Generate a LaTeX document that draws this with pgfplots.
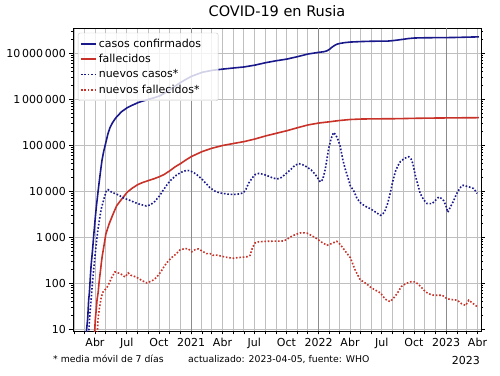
\documentclass[border=0pt]{standalone}
\usepackage{fontspec}
\setmainfont{DejaVu Sans}
\usepackage{pgfplots}
\pgfplotsset{compat=1.18}
\definecolor{cblue}{RGB}{25,25,140}
\definecolor{cred}{RGB}{200,50,40}
\begin{document}
\begin{tikzpicture}
\useasboundingbox (-73pt,-44pt) rectangle (427pt,331pt);
\begin{axis}[
  at={(0pt,0pt)}, anchor=south west,
  scale only axis, width=408pt, height=303pt,
  ymode=log, log basis y=10,
  xmin=28, xmax=1196, ymin=9.18, ymax=3.55e7,
  xtick={31,60,91,121,152,182,213,244,274,305,335,366,397,425,456,486,517,547,578,609,639,670,700,731,762,790,821,851,882,912,943,974,1004,1035,1065,1096,1127,1155,1186},
  xticklabels={,,Abr,,,Jul,,,Oct,,,2021,,,Abr,,,Jul,,,Oct,,,2022,,,Abr,,,Jul,,,Oct,,,2023,,,Abr},
  extra x ticks={366,731,1096},
  extra x tick labels={},
  extra x tick style={grid style={black!45}},
  ytick={10,100,1000,10000,100000,1000000,10000000},
  yticklabels={10,100,1\,000,10\,000,100\,000,1\,000\,000,10\,000\,000},
  minor ytick={20,30,40,50,60,70,80,90,200,300,400,500,600,700,800,900,2000,3000,4000,5000,6000,7000,8000,9000,2e4,3e4,4e4,5e4,6e4,7e4,8e4,9e4,2e5,3e5,4e5,5e5,6e5,7e5,8e5,9e5,2e6,3e6,4e6,5e6,6e6,7e6,8e6,9e6,2e7,3e7},
  tick align=outside, xtick pos=left,
  major tick length=3.5pt, minor tick length=2pt,
  every tick/.style={black, line width=0.6pt},
  xmajorgrids, ymajorgrids,
  grid style={black!25, line width=0.8pt},
  every axis y grid/.style={black!25, line width=1.4pt},
  axis line style={black, line width=0.8pt},
  ticklabel style={font=\fontsize{11}{13}\selectfont},
  title={COVID-19 en Rusia},
  title style={font=\fontsize{14.5}{17}\selectfont, at={(0.5,1)}, anchor=base, yshift=5.7pt},
  legend style={at={(0.012,0.984)}, anchor=north west, draw=black!22, rounded corners=2pt,
    fill=white, fill opacity=0.8, text opacity=1, font=\fontsize{11}{13}\selectfont,
    row sep=1.5pt, inner xsep=2pt, inner ysep=4pt},
  legend cell align=left,
  legend image code/.code={\draw[#1, line width=1.7pt, line cap=butt] (0pt,0pt) -- (15pt,0pt);},
]
\addplot[cblue, line width=1.6pt] coordinates {
(64,4) (67,10) (70,17) (73,45) (75,63) (77,114) (80,253) (83,438) (85,658) (87,1036) (90,1836) (92,2777) (95,4731) (98,7497) (101,11917) (104,18328) (107,27938) (111,47121) (116,74588) (122,114431) (128,177160) (134,242271) (141,308705) (148,370680) (153,414878) (167,537210) (183,654405) (197,739947) (214,845443) (228,917884) (245,1000048) (259,1073849) (275,1176286) (289,1340409) (306,1636781) (320,1925825) (336,2322056) (350,2681256) (367,3159297) (398,3861000) (426,4257000) (457,4536000) (487,4792000) (518,5050000) (548,5513000) (579,6241000) (610,6891000) (640,7479000) (671,8457000) (701,9655000) (732,10499000) (746,10830000) (755,11300000) (763,12340000) (770,13700000) (777,14860000) (784,15800000) (791,16330000) (805,17040000) (822,17560000) (852,17990000) (883,18300000) (913,18380000) (930,18450000) (944,18870000) (958,19450000) (975,20250000) (989,20950000) (1005,21500000) (1036,21760000) (1066,21870000) (1097,21960000) (1128,22140000) (1156,22440000) (1190,22780000)
};
\addlegendentry{casos confirmados\rule{13pt}{0pt}}
\addplot[cred, line width=1.6pt] coordinates {
(86,4) (88,7) (90,9) (92,17) (94,24) (97,45) (100,63) (102,94) (105,148) (107,198) (110,313) (112,405) (117,681) (122,1169) (131,1915) (141,2972) (153,4855) (167,6705) (183,9536) (197,11614) (214,14058) (228,15585) (245,17250) (259,18635) (275,20722) (289,23205) (306,28235) (320,33931) (336,40050) (350,47391) (367,57019) (398,73182) (426,86455) (457,99233) (487,109367) (518,120406) (548,136565) (579,159352) (610,182429) (640,207255) (671,241508) (701,277367) (732,305155) (763,325000) (791,346000) (822,364000) (852,372000) (883,375500) (913,376800) (944,378000) (975,381500) (1005,386000) (1036,389000) (1066,391500) (1097,393500) (1128,395500) (1156,397000) (1190,398500)
};
\addlegendentry{fallecidos}
\addplot[cblue, line width=1.6pt, dash pattern=on 1.6pt off 1.8pt] coordinates {
(73,8) (76,20) (80,45) (84,110) (88,230) (91,400) (95,750) (99,1400) (104,2500) (109,4200) (114,5800) (119,8000) (124,10500) (128,10900) (133,10300) (140,9400) (150,8900) (162,8000) (175,7000) (190,6400) (205,5700) (220,5200) (238,4800) (250,5100) (262,6000) (276,8000) (286,10500) (296,13500) (305,16500) (315,19500) (324,22500) (338,26000) (353,28500) (362,28000) (372,26000) (381,23500) (395,19000) (410,14500) (420,12000) (435,10000) (449,9200) (470,8700) (487,8500) (505,8800) (516,9300) (523,11000) (530,14700) (540,19000) (549,23000) (560,24500) (572,23500) (583,22000) (600,19500) (612,18500) (625,20000) (640,25000) (652,30000) (662,36000) (674,40000) (685,38000) (697,34000) (710,29000) (722,23000) (736,16000) (743,18000) (750,30000) (755,50000) (760,86000) (767,140000) (774,190000) (780,170000) (787,130000) (793,95000) (800,50000) (807,31000) (815,20000) (822,13000) (831,10500) (841,7000) (850,5700) (860,5000) (870,4500) (879,4200) (895,3500) (908,3000) (915,3200) (922,3900) (929,5500) (936,9000) (943,16000) (951,27000) (958,36000) (965,44000) (977,52000) (989,56500) (996,50000) (1001,40000) (1008,22000) (1013,16000) (1022,9000) (1032,6500) (1042,5400) (1056,5400) (1065,6300) (1075,7500) (1083,7000) (1089,6300) (1095,5000) (1101,3500) (1108,4500) (1118,6300) (1125,8500) (1132,10500) (1140,13000) (1145,13500) (1161,12500) (1175,11500) (1185,9000)
};
\addlegendentry{nuevos casos*}
\addplot[cred, line width=1.6pt, dash pattern=on 1.6pt off 1.8pt] coordinates {
(97,7) (100,18) (104,30) (109,50) (114,65) (119,72) (124,78) (130,95) (138,130) (148,177) (155,170) (163,163) (170,150) (177,137) (186,168) (193,150) (200,145) (211,134) (225,115) (239,102) (250,110) (260,120) (268,137) (280,180) (290,240) (300,300) (312,370) (324,440) (334,530) (345,560) (357,568) (368,484) (378,540) (387,560) (398,500) (410,442) (421,440) (429,406) (440,410) (449,395) (465,370) (487,350) (500,362) (516,370) (528,380) (535,406) (542,600) (549,752) (560,800) (583,818) (605,825) (631,831) (640,900) (650,1016) (665,1150) (678,1242) (690,1250) (698,1230) (710,1100) (726,934) (740,780) (755,670) (768,730) (783,818) (793,700) (802,569) (812,450) (822,360) (835,200) (850,120) (860,107) (870,95) (879,83) (895,70) (908,62) (922,45) (936,40) (946,48) (956,60) (968,85) (980,98) (995,108) (1008,107) (1020,90) (1037,65) (1050,58) (1061,55) (1085,55) (1099,46) (1115,44) (1128,43) (1140,36) (1152,33) (1161,43) (1170,38) (1185,31)
};
\addlegendentry{nuevos fallecidos*}
\end{axis}
\node[anchor=base west, font=\fontsize{9.3}{11}\selectfont, inner sep=0pt] at (-20pt,-31pt) {* media móvil de 7 días};
\node[anchor=base west, font=\fontsize{9.3}{11}\selectfont, inner sep=0pt] at (115pt,-31pt) {actualizado: 2023-04-05, fuente: WHO};
\node[anchor=base east, font=\fontsize{11}{13}\selectfont, inner sep=0pt] at (407pt,-33pt) {2023};
\end{tikzpicture}
\end{document}
